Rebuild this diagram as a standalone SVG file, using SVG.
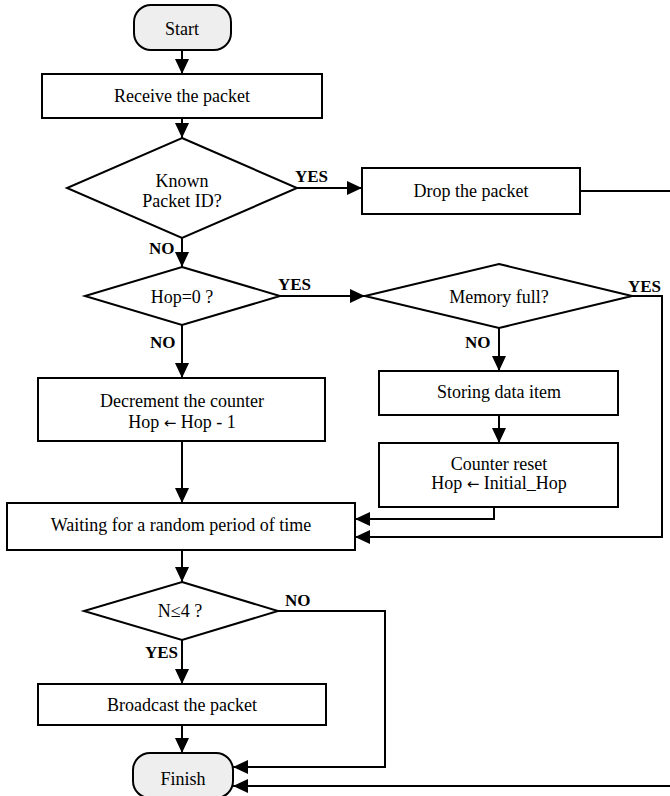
<svg xmlns="http://www.w3.org/2000/svg" width="670" height="796" viewBox="0 0 670 796">
<style>
.box{fill:#fff;stroke:#000;stroke-width:2}
.term{fill:#eeeeee;stroke:#000;stroke-width:2}
.t{font-family:"Liberation Serif","Times New Roman",serif;font-size:18px;fill:#000;text-anchor:middle}
.ar{font-family:"DejaVu Sans",sans-serif;font-size:15px}
.lbl{font-family:"Liberation Serif","Times New Roman",serif;font-size:17px;font-weight:bold;fill:#000}
.c{fill:none;stroke:#000;stroke-width:2}
.a{marker-end:url(#arr)}
</style>
<defs>
<marker id="arr" viewBox="0 0 15 14" refX="15" refY="7" markerWidth="15" markerHeight="14" markerUnits="userSpaceOnUse" orient="auto">
<path d="M0,0 L15,7 L0,14 Z" fill="#000"/>
</marker>
</defs>
<g id="connectors">
<path class="c a" d="M182,50 V74"/>
<path class="c a" d="M182,118 V138"/>
<path class="c a" d="M297,188 H362"/>
<path class="c a" d="M580,191 H690 V786 H233"/>
<path class="c a" d="M182,238 V267"/>
<path class="c a" d="M280,296 H365"/>
<path class="c a" d="M182,325 V378"/>
<path class="c a" d="M499,328 V371"/>
<path class="c a" d="M499,415 V443"/>
<path class="c a" d="M494,507 V519 H355"/>
<path class="c a" d="M632,296 H662 V537 H355"/>
<path class="c a" d="M182,441 V503"/>
<path class="c a" d="M182,550 V582"/>
<path class="c a" d="M182,640 V684"/>
<path class="c a" d="M278,611 H385 V767 H233"/>
<path class="c a" d="M182,725 V753"/>
<text class="lbl" x="295" y="182">YES</text>
<text class="lbl" x="149" y="254">NO</text>
<text class="lbl" x="278" y="290">YES</text>
<text class="lbl" x="150" y="348">NO</text>
<text class="lbl" x="628" y="292">YES</text>
<text class="lbl" x="465" y="348">NO</text>
<text class="lbl" x="285" y="606">NO</text>
<text class="lbl" x="145" y="658">YES</text>
</g>
<g id="start"><rect class="term" x="134" y="5" width="97" height="45" rx="17"/><text class="t" x="182" y="35">Start</text></g>
<g id="receive"><rect class="box" x="42" y="74" width="280" height="44"/><text class="t" x="182" y="102">Receive the packet</text></g>
<g id="known"><polygon class="box" points="182,138 297,188 182,238 67,188"/><text class="t" x="182" y="187">Known</text><text class="t" x="182" y="207">Packet ID?</text></g>
<g id="drop"><rect class="box" x="362" y="168" width="218" height="46"/><text class="t" x="471" y="197">Drop the packet</text></g>
<g id="hop"><polygon class="box" points="182,267 280,296 182,325 85,296"/><text class="t" x="182" y="303">Hop=0 ?</text></g>
<g id="memory"><polygon class="box" points="499,264 632,296 499,328 365,296"/><text class="t" x="499" y="303">Memory full?</text></g>
<g id="decrement"><rect class="box" x="38" y="378" width="287" height="63"/><text class="t" x="182" y="407">Decrement the counter</text><text class="t" x="182" y="428">Hop <tspan class="ar">←</tspan> Hop - 1</text></g>
<g id="storing"><rect class="box" x="379" y="371" width="239" height="44"/><text class="t" x="499" y="398">Storing data item</text></g>
<g id="reset"><rect class="box" x="379" y="443" width="239" height="64"/><text class="t" x="499" y="470">Counter reset</text><text class="t" x="499" y="489">Hop <tspan class="ar">←</tspan> Initial_Hop</text></g>
<g id="waiting"><rect class="box" x="7" y="503" width="348" height="47"/><text class="t" x="181" y="531">Waiting for a random period of time</text></g>
<g id="ncheck"><polygon class="box" points="182,582 278,611 182,640 84,611"/><text class="t" x="180" y="617">N≤4 ?</text></g>
<g id="broadcast"><rect class="box" x="38" y="684" width="288" height="41"/><text class="t" x="182" y="711">Broadcast the packet</text></g>
<g id="finish"><rect class="term" x="133" y="753" width="100" height="45" rx="17"/><text class="t" x="183" y="785">Finish</text></g>
</svg>
